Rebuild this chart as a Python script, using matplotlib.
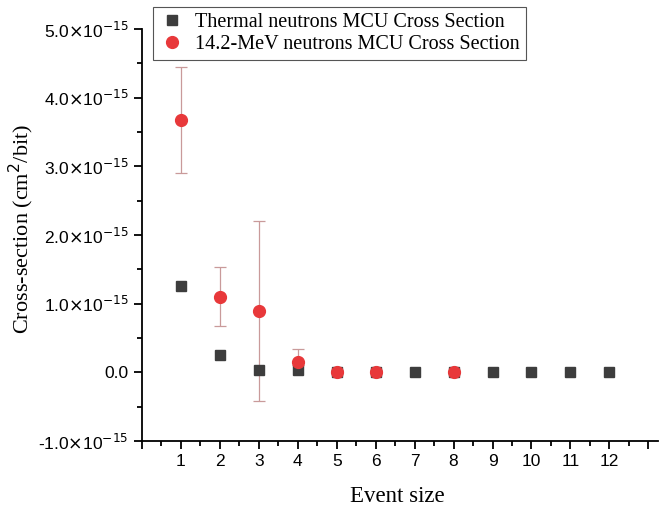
import matplotlib
matplotlib.use("Agg")
import matplotlib.pyplot as plt
import numpy as np
from matplotlib.ticker import FixedLocator, FuncFormatter

event_thermal = [1, 2, 3, 4, 5, 6, 7, 8, 9, 10, 11, 12]
xs_thermal = [1.26e-15, 0.25e-15, 0.03e-15, 0.03e-15, 0.0, 0.0, 0.0, 0.0, 0.0, 0.0, 0.0, 0.0]

event_fast = [1, 2, 3, 4, 5, 6, 8]
xs_fast = [3.67e-15, 1.10e-15, 0.89e-15, 0.15e-15, 0.01e-15, 0.01e-15, 0.0]
err_low = [0.77e-15, 0.43e-15, 1.31e-15, 0.05e-15, 0.02e-15, 0.02e-15, 0.0]
err_high = [0.78e-15, 0.43e-15, 1.31e-15, 0.19e-15, 0.02e-15, 0.02e-15, 0.0]

xtick_labels = ["", "1", "2", "3", "4", "5", "6", "7", "8", "9", "10", "11", "12", ""]
ytick_vals = [-1e-15, 0.0, 1e-15, 2e-15, 3e-15, 4e-15, 5e-15]

fig = plt.figure(figsize=(6.59, 5.13), dpi=100)
ax = fig.add_axes([0.2155, 0.1404, 0.783, 0.803])

ax.errorbar(event_fast, xs_fast, yerr=[err_low, err_high], fmt="none",
            ecolor="#c99a9a", elinewidth=0.9, capsize=4, capthick=0.9, zorder=2)
ax.plot(event_thermal, xs_thermal, "s", color="#3d3d3d", ms=7,
        label="Thermal neutrons MCU Cross Section", zorder=3)
ax.plot(event_fast, xs_fast, "o", color="#e8383a", ms=8.5,
        label="14.2-MeV neutrons MCU Cross Section", zorder=4)

ax.set_xlim(0, 13.25)
ax.set_ylim(-1e-15, 5e-15)
ax.xaxis.set_major_locator(FixedLocator(list(range(0, 14))))
ax.set_xticklabels(xtick_labels)
ax.xaxis.set_minor_locator(FixedLocator([i + 0.5 for i in range(0, 13)]))
ax.yaxis.set_major_locator(FixedLocator(ytick_vals))
ax.yaxis.set_minor_locator(FixedLocator([v + 0.5e-15 for v in ytick_vals[:-1]]))

def yfmt(v, pos):
    m = v / 1e-15
    if abs(m) < 1e-9:
        return "0.0"
    return r"%.1f$\times$10$^{-15}$" % m

ax.yaxis.set_major_formatter(FuncFormatter(yfmt))

for s in ["top", "right"]:
    ax.spines[s].set_visible(False)
for s in ["left", "bottom"]:
    ax.spines[s].set_linewidth(1.3)
ax.tick_params(which="major", direction="out", length=6, width=1.3,
               labelsize=12.5)
ax.tick_params(which="minor", direction="out", length=3.5, width=1.3)
for lab in ax.get_xticklabels() + ax.get_yticklabels():
    lab.set_fontfamily("Liberation Sans")

ax.set_xlabel("Event size", fontfamily="Liberation Serif", fontsize=16.5)
ax.set_ylabel("Cross-section (cm$^2$/bit)", fontfamily="Liberation Serif", fontsize=16)
ax.xaxis.set_label_coords((397 - 142) / 516, -(486 - 441) / 412)
ax.yaxis.set_label_coords(-(142 - 36) / 516, (441 - 229) / 412)

leg = ax.legend(loc="upper left", bbox_to_anchor=(153 / 659, 1 - 7 / 513),
                bbox_transform=fig.transFigure, frameon=True,
                fancybox=False, edgecolor="#555555", framealpha=1,
                prop={"family": "Liberation Serif", "size": 14.5},
                handletextpad=0.5, borderpad=0.3, labelspacing=0.15,
                handlelength=1.3, borderaxespad=0)
leg.get_frame().set_linewidth(0.8)

fig.savefig("out.png", dpi=100)
